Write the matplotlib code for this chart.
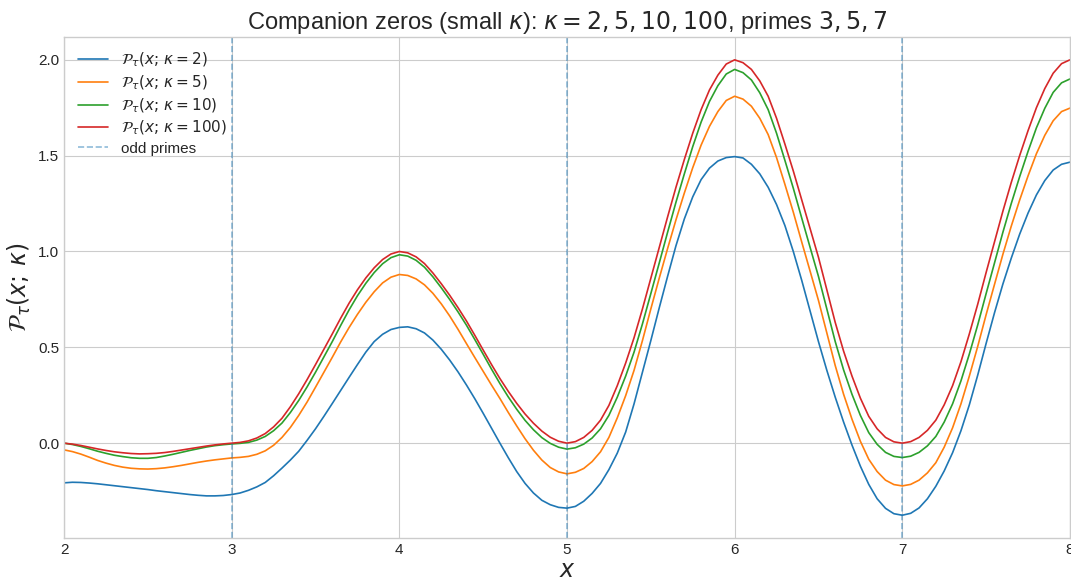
import matplotlib
matplotlib.use('Agg')
import matplotlib.pyplot as plt

# sample positions used when reading the curves (2.00, 2.05, ..., 8.00)
x_vals = [round(2 + 0.05 * i, 2) for i in range(121)]

# curve values, one row = 0.5 in x
p_k2 = [-0.207, -0.204, -0.205, -0.208, -0.212, -0.217, -0.222, -0.227, -0.232, -0.237,
        -0.242, -0.248, -0.253, -0.258, -0.263, -0.268, -0.272, -0.275, -0.275, -0.273,
        -0.268, -0.260, -0.246, -0.228, -0.205, -0.170, -0.130, -0.088, -0.042, 0.015,
        0.075, 0.140, 0.207, 0.275, 0.343, 0.410, 0.475, 0.530, 0.568, 0.593,
        0.604, 0.607, 0.597, 0.575, 0.538, 0.490, 0.434, 0.372, 0.304, 0.232,
        0.156, 0.078, 0.000, -0.076, -0.148, -0.210, -0.260, -0.298, -0.321, -0.335,
        -0.339, -0.330, -0.303, -0.262, -0.210, -0.138, -0.052, 0.058, 0.205, 0.370,
        0.535, 0.705, 0.870, 1.030, 1.170, 1.285, 1.375, 1.435, 1.472, 1.490,
        1.495, 1.488, 1.455, 1.405, 1.335, 1.245, 1.135, 1.000, 0.850, 0.690,
        0.530, 0.380, 0.240, 0.110, -0.010, -0.120, -0.215, -0.290, -0.340, -0.368,
        -0.376, -0.366, -0.338, -0.290, -0.225, -0.145, -0.050, 0.065, 0.200, 0.355,
        0.520, 0.680, 0.830, 0.965, 1.090, 1.200, 1.295, 1.370, 1.425, 1.455,
        1.466]
p_k5 = [-0.035, -0.044, -0.057, -0.073, -0.090, -0.104, -0.116, -0.125, -0.131, -0.134,
        -0.135, -0.133, -0.129, -0.123, -0.116, -0.108, -0.100, -0.093, -0.087, -0.082,
        -0.077, -0.074, -0.069, -0.058, -0.040, -0.011, 0.030, 0.082, 0.145, 0.215,
        0.292, 0.370, 0.448, 0.528, 0.603, 0.672, 0.735, 0.790, 0.836, 0.866,
        0.880, 0.875, 0.857, 0.826, 0.782, 0.727, 0.664, 0.594, 0.520, 0.447,
        0.375, 0.303, 0.233, 0.160, 0.090, 0.023, -0.037, -0.088, -0.127, -0.150,
        -0.160, -0.152, -0.132, -0.096, -0.045, 0.030, 0.132, 0.248, 0.380, 0.535,
        0.700, 0.860, 1.015, 1.165, 1.305, 1.437, 1.555, 1.653, 1.730, 1.788,
        1.810, 1.795, 1.758, 1.695, 1.610, 1.490, 1.350, 1.205, 1.050, 0.898,
        0.745, 0.575, 0.405, 0.255, 0.125, 0.010, -0.084, -0.148, -0.193, -0.216,
        -0.223, -0.215, -0.193, -0.155, -0.102, -0.021, 0.080, 0.205, 0.350, 0.505,
        0.670, 0.828, 0.985, 1.132, 1.268, 1.394, 1.510, 1.606, 1.682, 1.730,
        1.748]
p_k10 = [0.000, -0.007, -0.017, -0.029, -0.042, -0.053, -0.063, -0.070, -0.076, -0.079,
         -0.079, -0.075, -0.067, -0.058, -0.048, -0.038, -0.029, -0.020, -0.013, -0.008,
         -0.004, -0.001, 0.004, 0.016, 0.035, 0.065, 0.105, 0.160, 0.223, 0.294,
         0.370, 0.450, 0.530, 0.614, 0.695, 0.769, 0.834, 0.890, 0.936, 0.968,
         0.983, 0.976, 0.954, 0.918, 0.868, 0.811, 0.750, 0.685, 0.616, 0.541,
         0.464, 0.386, 0.311, 0.241, 0.177, 0.119, 0.070, 0.029, -0.001, -0.021,
         -0.031, -0.024, -0.005, 0.027, 0.075, 0.145, 0.240, 0.350, 0.475, 0.622,
         0.780, 0.939, 1.100, 1.257, 1.405, 1.547, 1.675, 1.783, 1.865, 1.926,
         1.950, 1.933, 1.895, 1.828, 1.740, 1.617, 1.475, 1.330, 1.175, 1.022,
         0.870, 0.700, 0.530, 0.382, 0.255, 0.145, 0.055, -0.006, -0.048, -0.069,
         -0.075, -0.068, -0.048, -0.014, 0.035, 0.110, 0.205, 0.325, 0.465, 0.617,
         0.780, 0.940, 1.100, 1.250, 1.390, 1.522, 1.645, 1.747, 1.830, 1.880,
         1.900]
p_k100 = [0.000, -0.005, -0.012, -0.021, -0.030, -0.038, -0.045, -0.050, -0.054, -0.056,
          -0.055, -0.053, -0.049, -0.043, -0.036, -0.029, -0.022, -0.015, -0.009, -0.004,
          0.000, 0.004, 0.012, 0.027, 0.050, 0.085, 0.130, 0.190, 0.258, 0.332,
          0.410, 0.490, 0.570, 0.652, 0.730, 0.800, 0.862, 0.915, 0.958, 0.987,
          1.000, 0.993, 0.972, 0.937, 0.888, 0.832, 0.772, 0.707, 0.638, 0.563,
          0.486, 0.410, 0.337, 0.270, 0.208, 0.152, 0.104, 0.063, 0.031, 0.010,
          0.000, 0.008, 0.030, 0.067, 0.120, 0.197, 0.300, 0.418, 0.550, 0.700,
          0.860, 1.020, 1.180, 1.335, 1.480, 1.617, 1.740, 1.843, 1.920, 1.978,
          2.000, 1.985, 1.950, 1.890, 1.810, 1.695, 1.560, 1.420, 1.270, 1.120,
          0.970, 0.800, 0.630, 0.480, 0.350, 0.235, 0.140, 0.075, 0.030, 0.007,
          0.000, 0.008, 0.030, 0.067, 0.120, 0.200, 0.300, 0.425, 0.570, 0.725,
          0.890, 1.050, 1.210, 1.360, 1.500, 1.630, 1.750, 1.850, 1.930, 1.980,
          2.000]

kappas = [2, 5, 10, 100]
series = [p_k2, p_k5, p_k10, p_k100]
odd_primes = [3, 5, 7]

plt.style.use('seaborn-v0_8-whitegrid')
plt.rcParams['font.family'] = ['Liberation Sans', 'DejaVu Sans']
plt.rcParams['mathtext.fontset'] = 'dejavusans'

fig, ax = plt.subplots(figsize=(10.71, 5.79), dpi=100)
fig.subplots_adjust(left=0.0598, right=0.999, bottom=0.0708, top=0.936)

for k, vals in zip(kappas, series):
    ax.plot(x_vals, vals, linewidth=1.2, label=rf'$\mathcal{{P}}_\tau(x;\,\kappa={k})$')

# dashed markers at the odd primes
for i, p in enumerate(odd_primes):
    ax.axvline(p, color='tab:blue', linestyle='--', linewidth=1.2, alpha=0.5,
               label='odd primes' if i == 0 else None)

ax.set_xlim(2, 8)
ax.set_title(r'Companion zeros (small $\kappa$): $\kappa=2,5,10,100$, primes $3,5,7$', fontsize=17)
ax.set_xlabel(r'$x$', fontsize=17, labelpad=2)
ax.set_ylabel(r'$\mathcal{P}_\tau(x;\,\kappa)$', fontsize=17)
ax.tick_params(labelsize=11)
ax.legend(loc='upper left', fontsize=11, labelspacing=0.28)

for s in ax.spines.values():
    s.set_visible(True)
    s.set_color('#cccccc')

fig.savefig('out.png', dpi=100)
